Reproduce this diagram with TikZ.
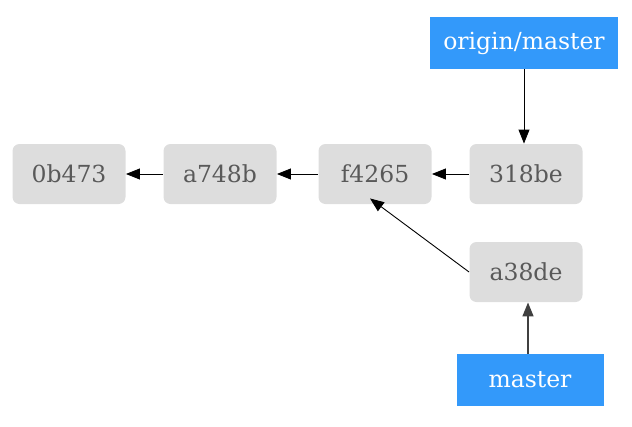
\documentclass[tikz,border=0pt]{standalone}
\usepackage{fontspec}
\setmainfont{DejaVu Serif}
\usetikzlibrary{arrows.meta}
\definecolor{commitgray}{HTML}{DDDDDD}
\definecolor{refblue}{HTML}{3399FA}
\begin{document}
\begin{tikzpicture}[x=1pt,y=-1pt,line join=round,line width=0.9pt,>={Triangle[length=14pt,width=11pt]},
	commit/.style={fill=commitgray,rounded corners=7pt,minimum width=113pt,minimum height=60pt,text=black!65,font=\fontsize{23.5}{26}\selectfont,inner sep=0pt},
	branch/.style={fill=refblue,minimum height=52pt,text=white,font=\fontsize{23.5}{26}\selectfont,inner sep=0pt}]
	\useasboundingbox (0,0) rectangle (632,426);
	\node[commit] (c0b) at (69,174) {0b473};
	\node[commit] (ca7) at (220,174) {a748b};
	\node[commit] (cf4) at (375,174) {f4265};
	\node[commit] (c31) at (526,174) {318be};
	\node[commit] (ca3) at (526,272) {a38de};
	\node[branch,minimum width=188pt] (orig) at (524,43) {origin/master};
	\node[branch,minimum width=147pt] (mast) at (530,380) {master};
	% parents
	\draw[->] (ca7) -- (c0b);
	\draw[->] (cf4) -- (ca7);
	\draw[->] (c31) -- (cf4);
	\draw[->] (ca3.west) -- ([xshift=-5pt,yshift=6pt]cf4.south);
	% refs
	\draw[->] (orig.south) -- (orig.south |- c31.north);
	\draw[->,black!75,line width=1.5pt] ([xshift=-2pt]mast.north) -- ([xshift=-2pt]mast.north |- ca3.south);
\end{tikzpicture}
\end{document}
